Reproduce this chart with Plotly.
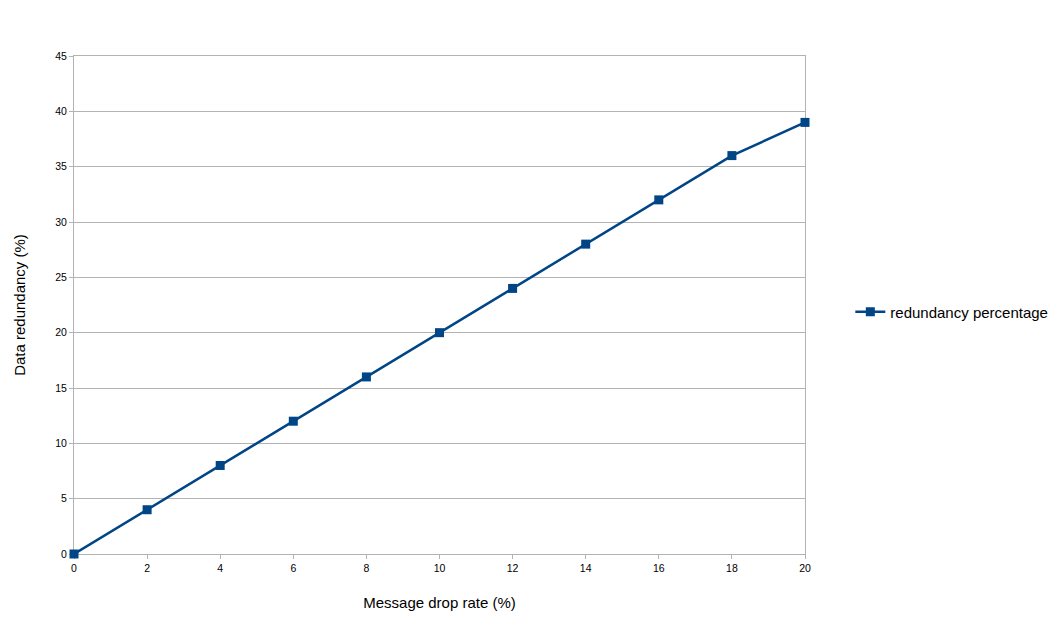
import plotly.graph_objects as go

drop_rate = [0, 2, 4, 6, 8, 10, 12, 14, 16, 18, 20]
redundancy = [0, 4, 8, 12, 16, 20, 24, 28, 32, 36, 39]
series_name = "redundancy percentage"

fig = go.Figure()
fig.add_trace(go.Scatter(
    x=drop_rate, y=redundancy, mode="lines+markers", name=series_name,
    line=dict(color="#004586", width=2.5),
    marker=dict(symbol="square", size=9, color="#004586"),
    cliponaxis=False,
))

fig.update_layout(
    width=1057, height=626,
    margin=dict(l=66, r=251, t=48, b=80),
    paper_bgcolor="white", plot_bgcolor="white",
    font=dict(family="Liberation Sans, Arial, sans-serif", color="black"),
    showlegend=True,
    legend=dict(x=1.062, y=0.486, xanchor="left", yanchor="middle",
                font=dict(size=15), bgcolor="rgba(0,0,0,0)", itemwidth=30),
    xaxis=dict(range=[0, 20], tickvals=drop_rate, ticks="outside", ticklen=4,
               tickcolor="#b3b3b3", showgrid=False, showline=True,
               linecolor="#b3b3b3", linewidth=1, mirror=True, zeroline=False,
               tickfont=dict(size=10.5), layer="below traces", automargin=False,
               title=dict(text="Message drop rate (%)", font=dict(size=15), standoff=24)),
    yaxis=dict(range=[0, 45], dtick=5, ticks="outside", ticklen=4,
               tickcolor="#b3b3b3", showgrid=True, gridcolor="#b3b3b3",
               showline=True, linecolor="#b3b3b3", linewidth=1, mirror=True,
               zeroline=False, tickfont=dict(size=10.5), layer="below traces",
               automargin=False,
               title=dict(text="Data redundancy (%)", font=dict(size=15), standoff=25)),
)

fig.write_html("out.html")
